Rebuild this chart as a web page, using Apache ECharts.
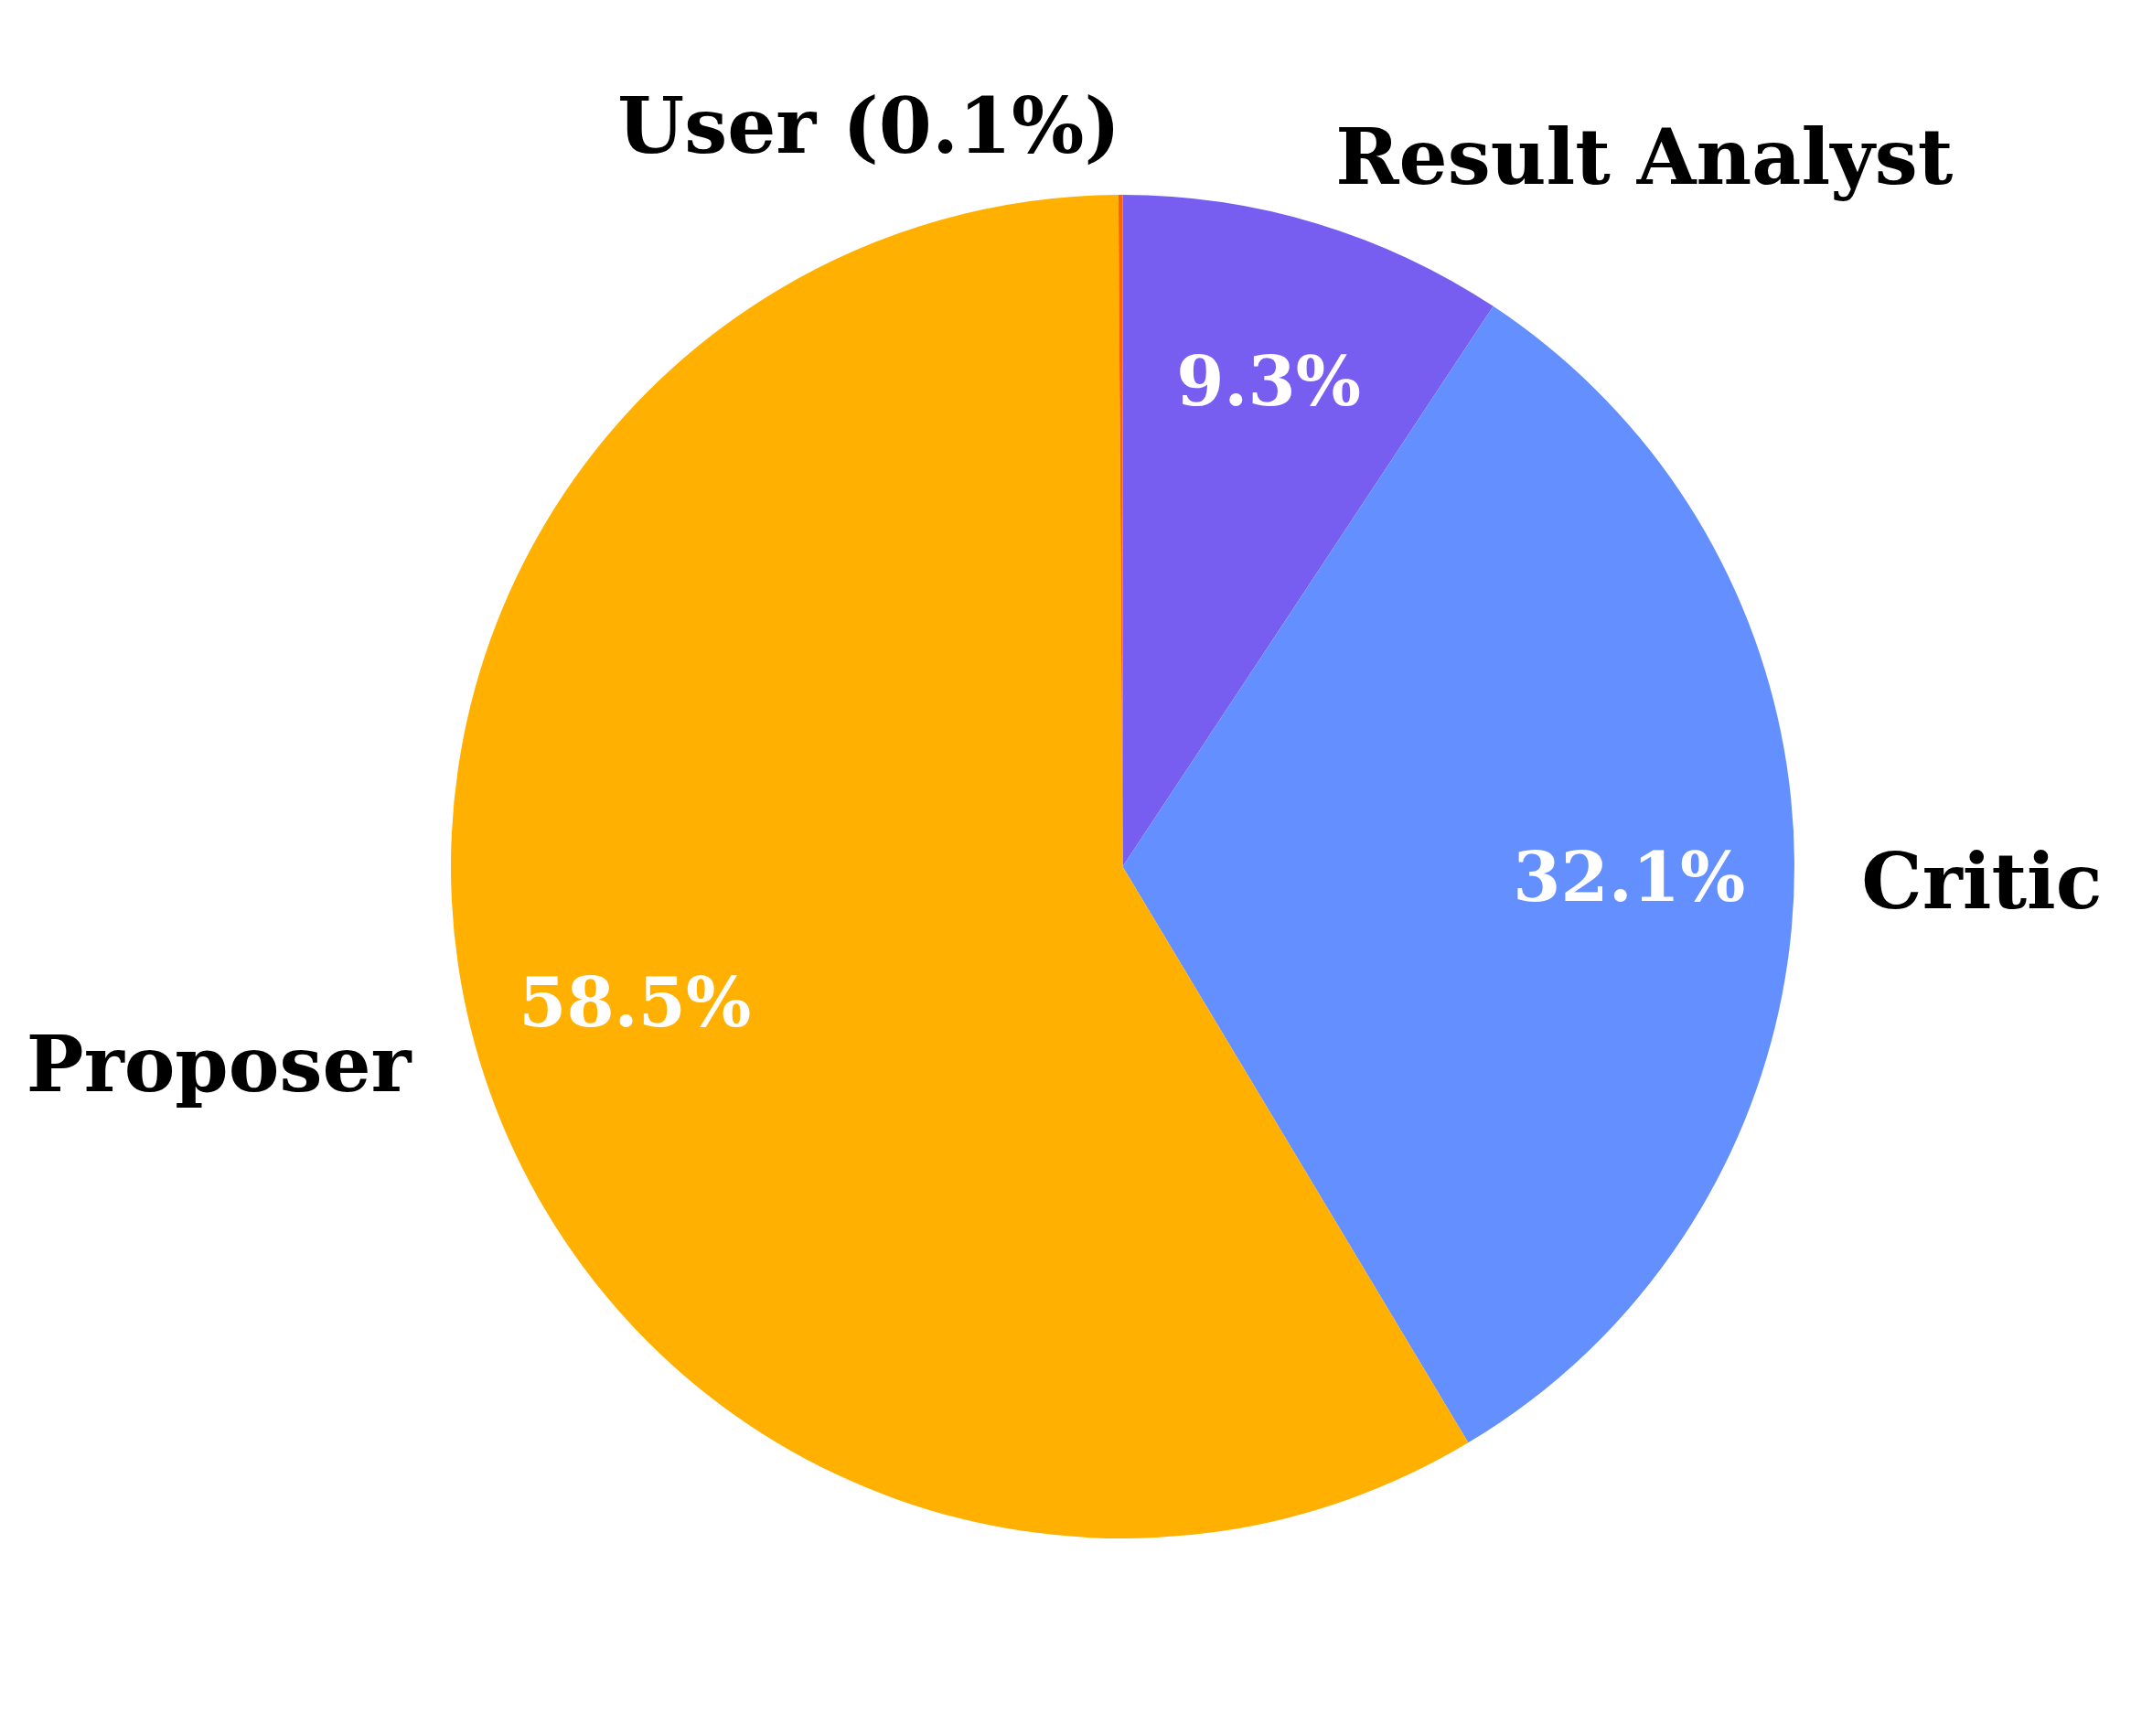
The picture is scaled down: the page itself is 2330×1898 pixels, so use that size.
<!DOCTYPE html>
<html>
<head>
<meta charset="utf-8">
<script src="https://cdn.jsdelivr.net/npm/echarts@6/dist/echarts.min.js"></script>
<style>
html,body{margin:0;padding:0;background:#fff;}
#chart{width:2330px;height:1898px;}
</style>
</head>
<body>
<div id="chart"></div>
<script>
const categories = ['Result Analyst', 'Critic', 'Proposer', 'User'];
const shares = [9.3, 32.1, 58.5, 0.1];
const colors = ['#785EF0', '#648FFF', '#FFB000', '#FE6100'];

const R = 734.5;
const CX = 1227.5, CY = 947.5;
const FONT = 'DejaVu Serif';

const baseData = categories.map((n, i) => ({ name: n, value: shares[i], itemStyle: { color: colors[i] } }));
const overlayData = categories.map((n, i) => ({
  name: n, value: shares[i],
  itemStyle: { color: 'rgba(0,0,0,0)' },
  label: { show: shares[i] >= 1 }
}));

const chart = echarts.init(document.getElementById('chart'), null, { renderer: 'canvas' });
chart.setOption({
  backgroundColor: '#ffffff',
  animation: false,
  series: [
    {
      type: 'pie',
      center: [CX, CY],
      radius: [0, R],
      startAngle: 90,
      clockwise: true,
      avoidLabelOverlap: false,
      silent: true,
      data: baseData,
      itemStyle: { borderWidth: 0 },
      label: {
        show: true,
        position: 'outside',
        distanceToLabelLine: 0,
        fontFamily: FONT,
        fontWeight: 'bold',
        fontSize: 83.5,
        color: '#000',
        formatter: p => p.value >= 1 ? p.name : p.name + ' (' + p.value.toFixed(1) + '%)'
      },
      labelLayout: { dy: 6 },
      labelLine: { show: false, length: R * 0.1, length2: 0 }
    },
    {
      type: 'pie',
      center: [CX, CY],
      radius: [R * 0.5, R],
      startAngle: 90,
      clockwise: true,
      avoidLabelOverlap: false,
      silent: true,
      data: overlayData,
      label: {
        position: 'inside',
        fontFamily: FONT,
        fontWeight: 'bold',
        fontSize: 75,
        color: '#fff',
        formatter: p => p.value.toFixed(1) + '%'
      },
      labelLayout: { dy: 6 },
      labelLine: { show: false }
    }
  ]
});
</script>
</body>
</html>
